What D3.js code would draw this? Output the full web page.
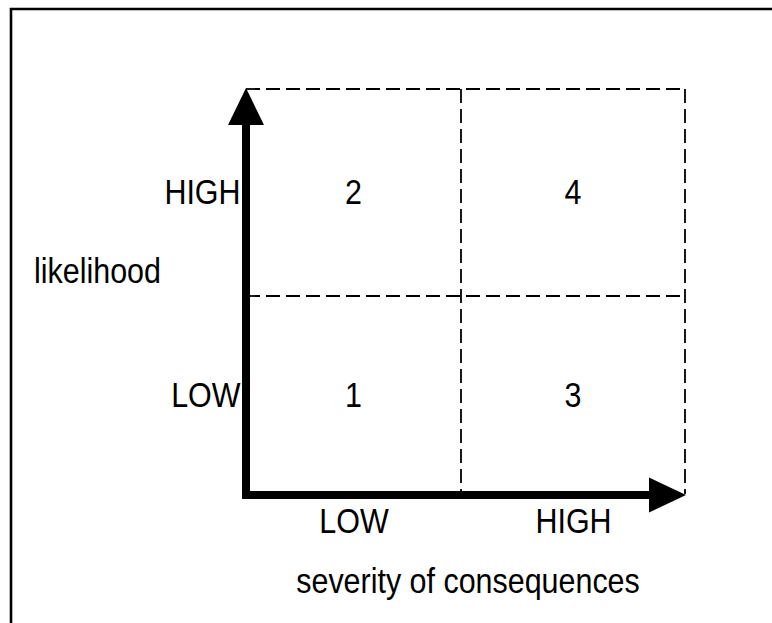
<!DOCTYPE html>
<html>
<head>
<meta charset="utf-8">
<script src="https://cdn.jsdelivr.net/npm/d3@7"></script>
<style>
    body { margin: 0; background: #fff; }
    text { font-family: 'Liberation Sans', Arial, sans-serif; fill: #000; }
    .lbl { font-size: 35px; }
</style>
</head>
<body>
<div id="vis"></div>
<script>
// categories / labels
const severityLevels = ["LOW", "HIGH"];
const likelihoodLevels = ["LOW", "HIGH"];
const xTitle = "severity of consequences";
const yTitle = "likelihood";

// quadrant numbers: [severity index, likelihood index, label]
const quadSeverity = [0, 0, 1, 1];
const quadLikelihood = [0, 1, 0, 1];
const quadLabels = ["1", "2", "3", "4"];

const width = 772, height = 623;
const squeeze = 0.87; // narrow-looking font

const svg = d3.select("#vis")
    .append("svg")
    .attr("width", width)
    .attr("height", height);

// grid is split slightly off-centre in the original
const x = d3.scaleLinear()
    .domain([0, 1, 2])
    .range([246, 461, 685]);

const y = d3.scaleLinear()
    .domain([0, 1, 2])
    .range([494, 296, 89]);

// outer frame (top + left only)
svg.append("path")
    .attr("d", "M11,623V9H772")
    .attr("fill", "none")
    .attr("stroke", "#000")
    .attr("stroke-width", 2.6);

// dashed grid
const dash = g => g.attr("stroke", "#000")
    .attr("stroke-width", 1.8)
    .attr("stroke-dasharray", "14,6")
    .attr("fill", "none");

svg.append("g").call(dash)
    .selectAll("line.h")
    .data([1, 2])
    .join("line")
    .attr("x1", x(0)).attr("x2", x(2))
    .attr("y1", d => y(d)).attr("y2", d => y(d));

svg.append("g").call(dash)
    .selectAll("line.v")
    .data([1, 2])
    .join("line")
    .attr("y1", y(2)).attr("y2", y(0))
    .attr("x1", d => x(d)).attr("x2", d => x(d));

// thick arrow axes
const axisW = 8;
const xa = y(0) + 1, ya = x(0);
svg.append("line")
    .attr("x1", ya).attr("x2", ya)
    .attr("y1", xa + axisW / 2).attr("y2", y(2) + 36)
    .attr("stroke", "#000").attr("stroke-width", axisW);
svg.append("path")
    .attr("d", `M${ya},${y(2) - 1}L${ya + 18},${y(2) + 36}L${ya - 18},${y(2) + 36}Z`)
    .attr("fill", "#000");

svg.append("line")
    .attr("x1", ya - axisW / 2).attr("x2", x(2) - 36)
    .attr("y1", xa).attr("y2", xa)
    .attr("stroke", "#000").attr("stroke-width", axisW);
svg.append("path")
    .attr("d", `M${x(2) + 1},${xa}L${x(2) - 36},${xa - 17.5}L${x(2) - 36},${xa + 17.5}Z`)
    .attr("fill", "#000");

// tick labels through d3 axes
svg.append("g")
    .attr("transform", `translate(0,${xa})`)
    .call(d3.axisBottom(x).tickValues([0.5, 1.5])
        .tickFormat((d, i) => severityLevels[i])
        .tickSize(0).tickPadding(13))
    .call(g => g.select(".domain").remove())
    .call(g => g.selectAll("text")
        .attr("class", "lbl")
        .attr("fill", "#000")
        .attr("font-family", null).attr("font-size", null)
        .attr("transform", `scale(${squeeze},1)`));

svg.append("g")
    .attr("transform", `translate(${ya - 2},0)`)
    .call(d3.axisLeft(y).tickValues([0.5, 1.5])
        .tickFormat((d, i) => likelihoodLevels[i])
        .tickSize(0).tickPadding(4))
    .call(g => g.select(".domain").remove())
    .call(g => g.selectAll("text")
        .attr("class", "lbl")
        .attr("fill", "#000")
        .attr("font-family", null).attr("font-size", null)
        .attr("transform", `scale(${squeeze},1)`));

// quadrant numbers
svg.selectAll(".quad")
    .data(quadLabels)
    .join("text")
    .attr("class", "lbl quad")
    .attr("text-anchor", "middle")
    .attr("transform", (d, i) =>
        `translate(${x(quadSeverity[i] + 0.5)},${y(quadLikelihood[i] + 0.5) + 11.5}) scale(${squeeze},1)`)
    .text(d => d);

// axis titles
svg.append("text")
    .attr("class", "lbl")
    .attr("text-anchor", "middle")
    .attr("transform", `translate(468,593) scale(${squeeze},1)`)
    .text(xTitle);

svg.append("text")
    .attr("class", "lbl")
    .attr("text-anchor", "start")
    .attr("transform", `translate(34,283) scale(${squeeze},1)`)
    .text(yTitle);
</script>
</body>
</html>
